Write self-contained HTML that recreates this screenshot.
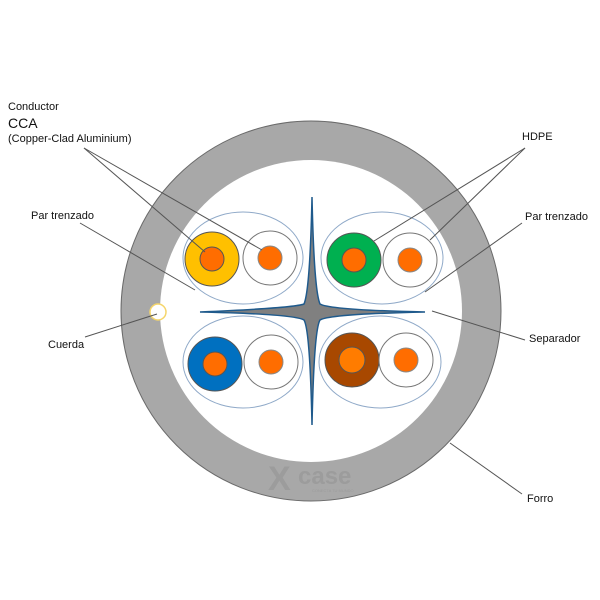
<!DOCTYPE html>
<html><head><meta charset="utf-8"><style>
html,body{margin:0;padding:0;background:#fff;width:600px;height:600px;overflow:hidden}
text{font-family:"Liberation Sans",sans-serif;fill:#111}
</style></head><body>
<svg width="600" height="600" viewBox="0 0 600 600" xmlns="http://www.w3.org/2000/svg">
<circle cx="311" cy="311" r="190" fill="#a8a8a8" stroke="#6a6a6a" stroke-width="1"/>
<circle cx="311" cy="311" r="151" fill="#fff"/>
<text x="268" y="490" font-size="34" font-weight="bold" style="fill:#9c9c9c">X</text>
<text x="298" y="484" font-size="24" font-weight="bold" style="fill:#9c9c9c">case</text>
<text x="312" y="492" font-size="4" style="fill:#9c9c9c">CONECTA TU MUNDO</text>
<circle cx="158" cy="312" r="8" fill="#fff" stroke="#f5d56a" stroke-width="1.5"/>
<g fill="none" stroke="#8fa9c8" stroke-width="1">
<ellipse cx="243" cy="258" rx="60" ry="46"/>
<ellipse cx="382" cy="258" rx="61" ry="46"/>
<ellipse cx="243" cy="362" rx="60" ry="46"/>
<ellipse cx="380" cy="362" rx="61" ry="46"/>
</g>
<path d="M312,197 Q314,290 320,304 Q330,310 425,312 Q330,314 320,320 Q314,330 312,425 Q310,330 304,320 Q294,314 200,312 Q294,308 304,304 Q310,290 312,197 Z" fill="#808080" stroke="#1f5a8c" stroke-width="1.5"/>
<g stroke="#555" stroke-width="1">
<circle cx="212" cy="259" r="27" fill="#ffc000"/>
<circle cx="212" cy="259" r="12" fill="#ff6d00"/>
<circle cx="270" cy="258" r="27" fill="#fff" stroke="#777"/>
<circle cx="270" cy="258" r="12" fill="#ff6d00" stroke="#888"/>
<circle cx="354" cy="260" r="27" fill="#00b050"/>
<circle cx="354" cy="260" r="12" fill="#ff6d00"/>
<circle cx="410" cy="260" r="27" fill="#fff" stroke="#777"/>
<circle cx="410" cy="260" r="12" fill="#ff6d00" stroke="#888"/>
<circle cx="215" cy="364" r="27" fill="#0070c0"/>
<circle cx="215" cy="364" r="12" fill="#ff6d00"/>
<circle cx="271" cy="362" r="27" fill="#fff" stroke="#777"/>
<circle cx="271" cy="362" r="12" fill="#ff6d00" stroke="#888"/>
<circle cx="352" cy="360" r="27" fill="#a84800"/>
<circle cx="352" cy="360" r="13" fill="#ff7c00"/>
<circle cx="406" cy="360" r="27" fill="#fff" stroke="#777"/>
<circle cx="406" cy="360" r="12" fill="#ff6d00" stroke="#888"/>
</g>
<g stroke="#555" stroke-width="1">
<line x1="84" y1="148" x2="205" y2="252"/>
<line x1="84" y1="148" x2="262" y2="250"/>
<line x1="80" y1="223" x2="195" y2="290"/>
<line x1="85" y1="337" x2="157" y2="314"/>
<line x1="525" y1="148" x2="374" y2="241"/>
<line x1="525" y1="148" x2="430" y2="240"/>
<line x1="522" y1="223" x2="425" y2="292"/>
<line x1="432" y1="311" x2="525" y2="340"/>
<line x1="450" y1="443" x2="522" y2="494"/>
</g>
<text x="8" y="110" font-size="11">Conductor</text>
<text x="8" y="128" font-size="14">CCA</text>
<text x="8" y="142" font-size="11">(Copper-Clad Aluminium)</text>
<text x="31" y="219" font-size="11">Par trenzado</text>
<text x="48" y="348" font-size="11">Cuerda</text>
<text x="522" y="140" font-size="11">HDPE</text>
<text x="525" y="220" font-size="11">Par trenzado</text>
<text x="529" y="342" font-size="11">Separador</text>
<text x="527" y="502" font-size="11">Forro</text>
</svg>
</body></html>
